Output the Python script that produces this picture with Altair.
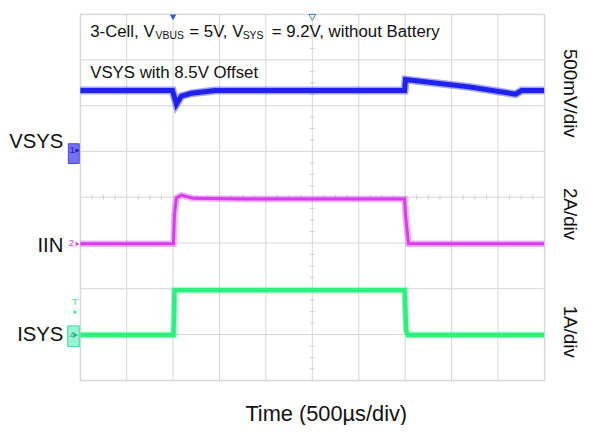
import altair as alt
import pandas as pd

FONT = "Liberation Sans"

# ---- time base: 500 us/div, 10 divisions; vertical: 8 divisions ----
grid_t = [0, 500, 1000, 1500, 2000, 2500, 3000, 3500, 4000, 4500, 5000]
grid_div = [0, 1, 2, 3, 4, 5, 6, 7, 8]

# ---- channel settings (ground marker position in divisions, offset, scale/div) ----
CH1_GND, CH1_OFFSET, CH1_SCALE = 4.97, 8.5, 0.5   # VSYS, 500 mV/div, 8.5 V offset
CH2_GND, CH2_SCALE = 2.985, 2.0                   # IIN, 2 A/div
CH3_GND, CH3_SCALE = 0.99, 1.0                    # ISYS, 1 A/div

# ---- traces ----
vsys_t = [0, 994, 1036, 1090, 1197, 1453, 3494, 3504, 4188, 4690, 4754, 5000]
vsys_v = [9.18, 9.18, 9.03, 9.12, 9.15, 9.18, 9.18, 9.30, 9.22, 9.14, 9.18, 9.18]

iin_t = [0, 1004, 1015, 1036, 1090, 1218, 1800, 3494, 3504, 3536, 5000]
iin_a = [0.0, 0.0, 1.3, 2.0, 2.12, 1.98, 1.95, 1.95, 1.25, 0.0, 0.0]

isys_t = [0, 1004, 1010, 1015, 3494, 3510, 3530, 5000]
isys_a = [0.0, 0.0, 0.45, 0.98, 0.98, 0.1, 0.0, 0.0]

df_vsys = pd.DataFrame({"t": vsys_t,
                        "div": [CH1_GND + (v - CH1_OFFSET) / CH1_SCALE for v in vsys_v]})
df_iin = pd.DataFrame({"t": iin_t, "div": [CH2_GND + a / CH2_SCALE for a in iin_a]})
df_isys = pd.DataFrame({"t": isys_t, "div": [CH3_GND + a / CH3_SCALE for a in isys_a]})

xs = alt.Scale(domain=[0, 5000], nice=False, zero=False)
ys = alt.Scale(domain=[0, 8], nice=False, zero=False)


def X(f="t"):
    return alt.X(f"{f}:Q", scale=xs, axis=None)


def Y(f="div"):
    return alt.Y(f"{f}:Q", scale=ys, axis=None)


# ---- grid ----
vgrid = alt.Chart(pd.DataFrame({"t": grid_t})).mark_rule(color="#d6d6d6", strokeWidth=1).encode(x=X())
hgrid = alt.Chart(pd.DataFrame({"div": grid_div})).mark_rule(color="#d6d6d6", strokeWidth=1).encode(y=Y())

minor_t = [i * 125 for i in range(1, 40) if i % 4 != 0]
minor_div = [i * 0.25 for i in range(1, 32) if i % 4 != 0]
hticks = alt.Chart(pd.DataFrame({"t": minor_t, "div": [4] * len(minor_t)})).mark_tick(
    orient="vertical", size=5, thickness=1, color="#c4c4c4").encode(x=X(), y=Y())
vticks = alt.Chart(pd.DataFrame({"t": [2500] * len(minor_div), "div": minor_div})).mark_tick(
    orient="horizontal", size=5, thickness=1, color="#c4c4c4").encode(x=X(), y=Y())

# ---- traces (a soft wide halo under each line imitates the noise band) ----
BLUE, MAGENTA, GREEN = "#2121ee", "#d93cf0", "#2ef07f"


def trace(df, color, w_core, w_halo):
    halo = alt.Chart(df).mark_line(color=color, strokeWidth=w_halo, opacity=0.4, clip=True).encode(x=X(), y=Y())
    core = alt.Chart(df).mark_line(color=color, strokeWidth=w_core, clip=True).encode(x=X(), y=Y())
    return halo + core


l_vsys = trace(df_vsys, BLUE, 5, 8)
l_iin = trace(df_iin, MAGENTA, 3, 6.5)
l_isys = trace(df_isys, GREEN, 4.5, 6.5)

# ---- texts ----
def text_layer(rows, **kw):
    df = pd.DataFrame(rows, columns=["t", "div", "label"])
    return alt.Chart(df).mark_text(font=FONT, **kw).encode(x=X(), y=Y(), text="label:N")


big_left = text_layer([
    [107, 7.50, "3-Cell, V"],
    [1175, 7.50, "= 5V, V"],
    [2062, 7.50, "= 9.2V, without Battery"],
    [107, 6.595, "VSYS with 8.5V Offset"],
], fontSize=17, align="left", baseline="alphabetic", color="#111111")

sub_txt = text_layer([
    [812, 7.46, "VBUS"],
    [1750, 7.46, "SYS"],
], fontSize=10.5, align="left", baseline="alphabetic", color="#111111")

left_txt = text_layer([
    [-182, 5.081, "VSYS"],
    [-182, 2.811, "IIN"],
    [-182, 0.865, "ISYS"],
], fontSize=20.5, align="right", baseline="alphabetic", color="#111111")

right_txt = text_layer([
    [5278, 6.27, "500mV/div"],
    [5278, 3.632, "2A/div"],
    [5278, 1.06, "1A/div"],
], fontSize=19, align="center", baseline="middle", angle=90, color="#111111")

bottom_txt = text_layer([
    [2650, -0.886, "Time (500µs/div)"],
], fontSize=22, align="center", baseline="alphabetic", color="#111111")

# ---- scope markers ----
boxes = pd.DataFrame({
    "t": [-128, -135], "t2": [-11, -11],
    "div": [5.168, 1.189], "div2": [4.735, 0.735],
    "fill": ["#7272f2", "#9af2d6"], "stroke": ["#4646e6", "#3ad99c"],
})
box_layer = alt.Chart(boxes).mark_rect(strokeWidth=1).encode(
    x=X(), x2="t2:Q", y=Y(), y2="div2:Q",
    fill=alt.Fill("fill:N", scale=None), stroke=alt.Stroke("stroke:N", scale=None))

marker_txt = pd.DataFrame({
    "t": [-85, -95, -85, -55],
    "div": [5.02, 3.0, 0.99, 1.70],
    "label": ["1", "2", "4", "T"],
    "c": ["#1a1acc", MAGENTA, "#1fb874", GREEN],
})
marker_txt_layer = alt.Chart(marker_txt).mark_text(font=FONT, fontSize=10, baseline="middle").encode(
    x=X(), y=Y(), text="label:N", color=alt.Color("c:N", scale=None))

arrows = pd.DataFrame({"t": [-30, -30, -45, -50], "div": [5.02, 2.98, 0.99, 1.49],
                       "c": ["#1a1acc", MAGENTA, "#1fb874", GREEN]})
arrow_layer = alt.Chart(arrows).mark_point(shape="triangle-right", size=20, filled=True, opacity=1).encode(
    x=X(), y=Y(), color=alt.Color("c:N", scale=None))

trig = pd.DataFrame({"t": [1000], "div": [7.93]})
trig_layer = alt.Chart(trig).mark_point(shape="triangle-down", size=45, filled=True,
                                         color="#2a63d4", opacity=1).encode(x=X(), y=Y())
center = pd.DataFrame({"t": [2500], "div": [7.93]})
center_layer = alt.Chart(center).mark_point(shape="triangle-down", size=45, filled=True, fill="white",
                                             stroke="#3d7de0", strokeWidth=1, opacity=1).encode(x=X(), y=Y())

chart = alt.layer(
    vgrid, hgrid, hticks, vticks,
    l_vsys, l_iin, l_isys,
    big_left, sub_txt, left_txt, right_txt, bottom_txt,
    box_layer, marker_txt_layer, arrow_layer, trig_layer, center_layer,
).properties(
    width=469, height=370,
    autosize=alt.AutoSizeParams(type="none"),
    padding={"left": 73, "top": 4, "right": 38, "bottom": 43},
).configure_view(
    stroke="#7a7a7a", strokeWidth=1.3
).configure(background="white")

chart.save("out.html", embed_options={"renderer": "svg", "actions": False})
